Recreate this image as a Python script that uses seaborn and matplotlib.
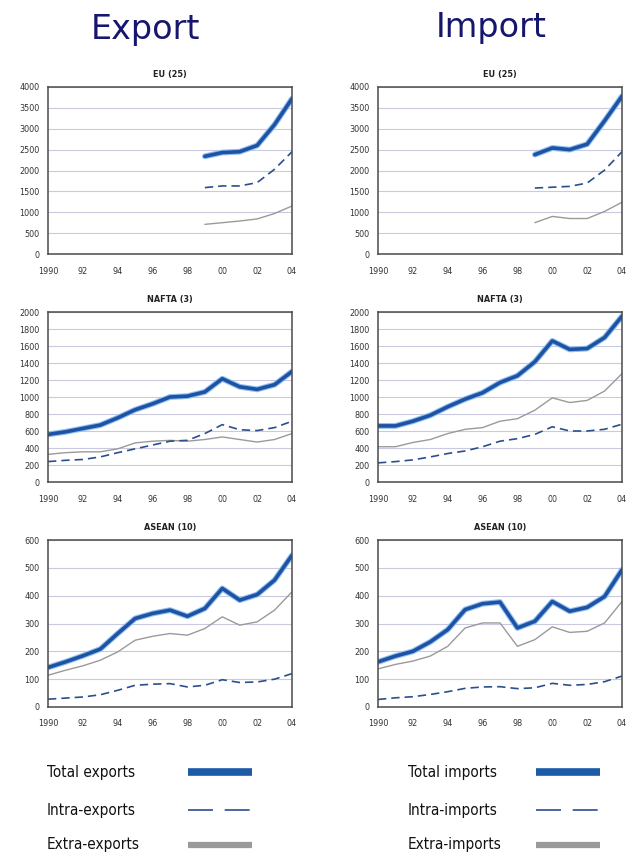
import matplotlib
matplotlib.use("Agg")
from matplotlib import pyplot as plt
from matplotlib import patheffects as pe
from matplotlib.lines import Line2D
from matplotlib.ticker import MultipleLocator
import seaborn as sns

# data
years = list(range(1990, 2005))
eu_years = list(range(1999, 2005))

eu_exp_total = [2340, 2430, 2450, 2600, 3100, 3720]
eu_exp_intra = [1590, 1630, 1630, 1710, 2030, 2450]
eu_exp_extra = [710, 750, 790, 840, 970, 1150]
eu_imp_total = [2380, 2540, 2500, 2630, 3190, 3780]
eu_imp_intra = [1580, 1600, 1620, 1700, 2010, 2450]
eu_imp_extra = [750, 900, 850, 850, 1020, 1240]

nafta_exp_total = [560, 590, 630, 670, 755, 850, 920, 1000, 1010, 1060, 1215, 1120, 1090, 1145, 1300]
nafta_exp_intra = [240, 255, 265, 295, 345, 390, 435, 480, 490, 570, 675, 615, 605, 640, 715]
nafta_exp_extra = [325, 345, 355, 355, 390, 460, 480, 490, 480, 500, 530, 500, 470, 500, 570]
nafta_imp_total = [660, 660, 715, 785, 885, 975, 1050, 1170, 1250, 1415, 1660, 1560, 1570, 1700, 1950]
nafta_imp_intra = [225, 240, 260, 295, 335, 365, 415, 480, 510, 560, 650, 600, 600, 620, 680]
nafta_imp_extra = [415, 415, 465, 500, 570, 620, 640, 715, 745, 845, 990, 935, 960, 1070, 1275]

asean_exp_total = [142, 162, 184, 208, 264, 318, 336, 348, 326, 354, 426, 384, 404, 456, 545]
asean_exp_intra = [28, 32, 36, 44, 60, 78, 82, 84, 72, 78, 98, 88, 90, 100, 120]
asean_exp_extra = [114, 132, 148, 168, 198, 240, 254, 264, 258, 282, 324, 294, 306, 348, 414]
asean_imp_total = [162, 183, 200, 234, 278, 350, 371, 377, 284, 308, 379, 344, 358, 397, 493]
asean_imp_intra = [27, 33, 37, 45, 55, 67, 72, 73, 66, 69, 85, 78, 81, 91, 111]
asean_imp_extra = [137, 153, 165, 183, 218, 284, 302, 302, 218, 242, 288, 268, 272, 302, 379]

x_tick_years = [1990, 1992, 1994, 1996, 1998, 2000, 2002, 2004]
x_tick_labels = ["1990", "92", "94", "96", "98", "00", "02", "04"]

export_labels = ["Total exports", "Intra-exports", "Extra-exports"]
import_labels = ["Total imports", "Intra-imports", "Extra-imports"]

TOTAL_COLOR = "#1d52a4"
HALO_COLOR = "#8fbfee"
INTRA_COLOR = "#2b4f8c"
EXTRA_COLOR = "#9a9a9a"
NARROW = dict(family="DejaVu Sans", stretch="condensed")

sns.set_style("white")


def draw_panel(ax, title, x, total, intra, extra, ymax, ystep):
    """draw one region panel: total, intra and extra trade"""
    sns.lineplot(x=x, y=extra, ax=ax, color=EXTRA_COLOR, linewidth=1.0)
    sns.lineplot(x=x, y=intra, ax=ax, color=INTRA_COLOR, linewidth=1.2,
                 linestyle=(0, (5, 3)))
    sns.lineplot(x=x, y=total, ax=ax, color=TOTAL_COLOR, linewidth=2.6,
                 path_effects=[pe.Stroke(linewidth=4.2, foreground=HALO_COLOR), pe.Normal()])

    ax.set_xlim(1990, 2004)
    ax.set_ylim(0, ymax)
    ax.yaxis.set_major_locator(MultipleLocator(ystep))
    ax.set_xticks(x_tick_years)
    ax.set_xticklabels(x_tick_labels)
    ax.xaxis.set_minor_locator(MultipleLocator(1))
    ax.grid(axis="y", color="#c9cadf", linewidth=0.8)
    ax.set_axisbelow(True)
    for sp in ax.spines.values():
        sp.set_color("#4a4a4a")
        sp.set_linewidth(1.1)
    ax.tick_params(axis="x", which="both", direction="in", length=3, width=0.8,
                   colors="#4a4a4a", labelcolor="#333333", labelsize=6.5, pad=9)
    ax.tick_params(axis="y", length=0, labelsize=6.5, labelcolor="#333333", pad=6)
    for lab in ax.get_xticklabels() + ax.get_yticklabels():
        lab.set_fontstretch("condensed")
    ax.set_xlabel("")
    ax.set_ylabel("")
    ax.set_title(title, fontsize=6.5, fontweight="bold", pad=7, color="#222222", **NARROW)


fig = plt.figure(figsize=(6.33, 8.67), dpi=100)
W, H = 633, 867


def px_axes(left, top, right, bottom):
    return fig.add_axes([left / W, 1 - bottom / H, (right - left) / W, (bottom - top) / H])


panels = [
    ((48, 87, 292, 254), "EU (25)", eu_years, eu_exp_total, eu_exp_intra, eu_exp_extra, 4000, 500),
    ((378, 87, 622, 254), "EU (25)", eu_years, eu_imp_total, eu_imp_intra, eu_imp_extra, 4000, 500),
    ((48, 312, 292, 482), "NAFTA (3)", years, nafta_exp_total, nafta_exp_intra, nafta_exp_extra, 2000, 200),
    ((378, 312, 622, 482), "NAFTA (3)", years, nafta_imp_total, nafta_imp_intra, nafta_imp_extra, 2000, 200),
    ((48, 540, 292, 707), "ASEAN (10)", years, asean_exp_total, asean_exp_intra, asean_exp_extra, 600, 100),
    ((378, 540, 622, 707), "ASEAN (10)", years, asean_imp_total, asean_imp_intra, asean_imp_extra, 600, 100),
]
for box, title, x, tot, intra, extra, ymax, ystep in panels:
    draw_panel(px_axes(*box), title, x, tot, intra, extra, ymax, ystep)

# column headers
fig.text(145 / W, 1 - 30 / H, "Export", fontsize=24, color="#16166e", ha="center", va="center")
fig.text(491 / W, 1 - 28 / H, "Import", fontsize=24, color="#16166e", ha="center", va="center")

# legend: label on the left, line sample on the right
sample_styles = [
    dict(color="#1d5aa8", linewidth=5.5, solid_capstyle="butt"),
    dict(color=INTRA_COLOR, linewidth=1.2, dashes=(15, 7)),
    dict(color="#9a9a9a", linewidth=4.5, solid_capstyle="butt"),
]
rows_y = [772, 810, 845]
for text_x, line_x0, line_x1, words in [(47, 188, 252, export_labels),
                                         (408, 536, 600, import_labels)]:
    for y, word, style in zip(rows_y, words, sample_styles):
        fig.text(text_x / W, 1 - y / H, word, fontsize=11, color="#111111",
                 ha="left", va="center", **NARROW)
        fig.add_artist(Line2D([line_x0 / W, line_x1 / W], [1 - y / H, 1 - y / H],
                              transform=fig.transFigure, **style))

fig.savefig("out.png", dpi=100, facecolor="white")
